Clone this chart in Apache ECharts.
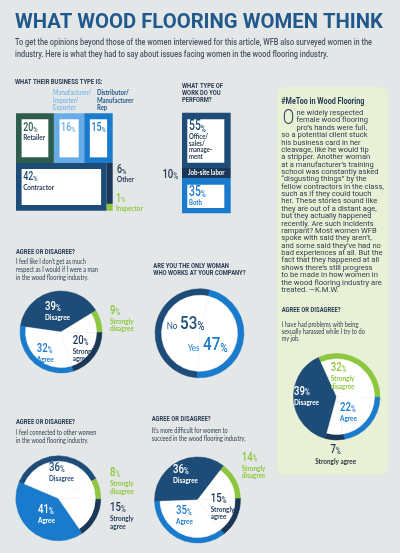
<!DOCTYPE html>
<html>
<head>
<meta charset="utf-8">
<script src="https://cdn.jsdelivr.net/npm/echarts@6.0.0/dist/echarts.min.js"></script>
<style>
html,body{margin:0;padding:0;background:#e4e7e7;}
#chart{width:400px;height:553px;}
</style>
</head>
<body>
<div id="chart"></div>
<script>
// ---------------- DATA ----------------
const businessTypes = ['Retailer', 'Manufacturer/\nImporter/\nExporter', 'Distributor/\nManufacturer\nRep', 'Contractor', 'Other', 'Inspector'];
const businessShares = [20, 16, 15, 42, 6, 1];

const workTypes = ['Office/\nsales/\nmanage-\nment', 'Job-site labor', 'Both'];
const workShares = [55, 10, 35];

const respectCats = ['Disagree', 'Strongly\ndisagree', 'Strongly\nagree', 'Agree'];
const respectShares = [39, 9, 20, 32];

const onlyWomanCats = ['No', 'Yes'];
const onlyWomanShares = [53, 47];

const harassCats = ['Disagree', 'Strongly\ndisagree', 'Agree', 'Strongly agree'];
const harassShares = [39, 32, 22, 7];

const connectedCats = ['Agree', 'Disagree', 'Strongly\ndisagree', 'Strongly\nagree'];
const connectedShares = [41, 36, 8, 15];

const difficultCats = ['Disagree', 'Strongly\ndisagree', 'Strongly\nagree', 'Agree'];
const difficultShares = [36, 14, 15, 35];

const titleText = 'WHAT WOOD FLOORING WOMEN THINK';
const subtitleLines = [
  'To get the opinions beyond those of the women interviewed for this article, WFB also surveyed women in the',
  'industry. Here is what they had to say about issues facing women in the wood flooring industry.'
];
const businessHeading = 'WHAT THEIR BUSINESS TYPE IS:';
const workHeading = ['WHAT TYPE OF', 'WORK DO YOU', 'PERFORM?'];
const agreeHeading = 'AGREE OR DISAGREE?';
const respectStatement = ["I feel like I don\u2019t get as much", 'respect as I would if I were a man', 'in the wood flooring industry.'];
const onlyWomanHeading = ['ARE YOU THE ONLY WOMAN', 'WHO WORKS AT YOUR COMPANY?'];
const harassStatement = ['I have had problems with being', 'sexually harassed while I try to do', 'my job.'];
const connectedStatement = ['I feel connected to other women', 'in the wood flooring industry.'];
const difficultStatement = ["It\u2019s more difficult for women to", 'succeed in the wood flooring industry.'];
const panelHeading = '#MeToo in Wood Flooring';
const panelDropCap = 'O';
const panelLines = [
  'ne widely respected',
  'female wood flooring',
  'pro\u2019s hands were full,',
  'so a potential client stuck',
  'his business card in her',
  'cleavage, like he would tip',
  'a stripper. Another woman',
  'at a manufacturer\u2019s training',
  'school was constantly asked',
  '\u201Cdisgusting things\u201D by the',
  'fellow contractors in the class,',
  'such as if they could touch',
  'her. These stories sound like',
  'they are out of a distant age,',
  'but they actually happened',
  'recently. Are such incidents',
  'rampant? Most women WFB',
  'spoke with said they aren\u2019t,',
  'and some said they\u2019ve had no',
  'bad experiences at all. But the',
  'fact that they happened at all',
  'shows there\u2019s still progress',
  'to be made in how women in',
  'the wood flooring industry are',
  'treated. \u2014K.M.W.'
];

// ---------------- STYLE ----------------
const C = {
  bg: '#e4e7e7', title: '#22598c', sub: '#475667', ink: '#283c55', text: '#2f4052',
  navy: '#1e4c78', blue: '#1a7bcd', green: '#8dc63f', dark: '#1b3656',
  light: '#67ace6', forest: '#2e5d4e', panel: '#e8f0d5', white: '#ffffff'
};
const mctx = document.createElement('canvas').getContext('2d');
function tw(s, font) { mctx.font = font; return mctx.measureText(s).width; }

function txt(s, x, y, font, fill, o) {
  o = o || {};
  const al = o.align || 'left';
  return { type: 'text', x: x, y: y, scaleX: o.sx || 1, z: o.z || 100, silent: true,
    style: { text: s, x: 0, y: 0, font: font, fill: fill, align: al, textAlign: al, verticalAlign: 'middle', textVerticalAlign: 'middle' } };
}
const SXN = 0.74;
function num(v, x, y, size, fill, o) {
  o = o || {};
  const al = o.align || 'left';
  return { type: 'text', x: x, y: y, scaleX: o.sx || SXN, z: o.z || 100, silent: true,
    style: { text: '{n|' + v + '}{p|%}', x: 0, y: 0, align: al, textAlign: al, verticalAlign: 'middle', textVerticalAlign: 'middle',
      rich: {
        n: { font: '500 ' + size + 'px Roboto', fill: fill, verticalAlign: 'bottom', lineHeight: size },
        p: { font: '500 ' + (size * 0.66).toFixed(1) + 'px Roboto', fill: fill, verticalAlign: 'bottom' }
      } } };
}

const HEAD = 'bold 8px Roboto';
const sxHead = 59 / tw(agreeHeading, HEAD);
const LBL = 'bold 7.5px Lato';
const sxL = 25 / tw('Disagree', LBL);
const STM = '7.2px Lato';
const sxS = 82 / tw(respectStatement[1], STM);
const BODY = '7px Roboto';
const sxB = 102.5 / tw(panelLines[10], BODY);

// ---------------- TREEMAP LAYOUT (computed from values) ----------------
const BIZ_GRID = { left: 16, top: 113.3, width: 96.7, height: 97.4 };
const NARROW_COL_PX = 6;
const bizRects = (function () {
  const total = businessShares.reduce((a, b) => a + b, 0);
  const topIdx = [0, 1, 2];
  const topSum = topIdx.reduce((a, i) => a + businessShares[i], 0);
  const hTop = topSum / total;
  const r = [];
  let x = 0;
  topIdx.forEach(i => { const w = businessShares[i] / topSum; r[i] = [x, 0, x + w, hTop]; x += w; });
  const col = NARROW_COL_PX / BIZ_GRID.width;
  r[3] = [0, hTop, 1 - col, 1];
  const colSum = businessShares[4] + businessShares[5];
  const ys = hTop + (1 - hTop) * businessShares[4] / colSum;
  r[4] = [1 - col, hTop, 1, ys];
  r[5] = [1 - col, ys, 1, 1];
  return r;
})();
const bizColors = [C.forest, C.light, C.blue, C.navy, C.dark, C.green];
const bizBoxed = [true, true, true, true, false, false];
const bizNameInside = [true, false, false, true];

function renderBiz(params, api) {
  const i = params.dataIndex, r = bizRects[i];
  const p0 = api.coord([r[0], r[1]]), p1 = api.coord([r[2], r[3]]);
  const x = p0[0], y = p0[1], w = p1[0] - p0[0], h = p1[1] - p0[1];
  const ch = [{ type: 'rect', shape: { x: x, y: y, width: w, height: h }, style: { fill: bizColors[i] } }];
  if (bizBoxed[i]) {
    const ix = x + 5.6, iy = y + 6, iw = w - 11.2, ih = h - 11.6;
    ch.push({ type: 'rect', shape: { x: ix, y: iy, width: iw, height: ih }, style: { fill: '#fff' } });
    ch.push(num(businessShares[i], ix + 1.6, iy + 8.3, 12, bizColors[i]));
    if (bizNameInside[i]) ch.push(txt(businessTypes[i], ix + 1.6, iy + 18.5, LBL, C.ink, { sx: sxL }));
  } else if (i === 4) {
    ch.push(num(businessShares[i], x + w + 4.3, y + 7.3, 12, C.ink));
    ch.push(txt(businessTypes[i], x + w + 4.3, y + 16.5, LBL, C.ink, { sx: sxL }));
  } else {
    ch.push(num(businessShares[i], x + w + 3.3, y + h - 12.2, 12, C.green));
    ch.push(txt(businessTypes[i], x + w + 3.3, y + h - 2.2, LBL, C.green, { sx: sxL }));
  }
  return { type: 'group', children: ch };
}

// ---------------- WORK BAR (stacked, computed from values) ----------------
const workColors = [C.navy, C.dark, C.blue];
const workStarts = workShares.map((v, i) => workShares.slice(0, i).reduce((a, b) => a + b, 0));
function renderWork(params, api) {
  const i = params.dataIndex;
  const p0 = api.coord([0, workStarts[i]]), p1 = api.coord([1, workStarts[i] + workShares[i]]);
  const x = p0[0], y = p0[1], w = p1[0] - p0[0], h = p1[1] - p0[1];
  const ch = [{ type: 'rect', shape: { x: x, y: y, width: w, height: h }, style: { fill: workColors[i] } }];
  if (i === 1) {
    ch.push(txt(workTypes[i], x + w / 2, y + h / 2, LBL, '#fff', { align: 'center', sx: 36.5 / tw(workTypes[i], LBL) }));
    ch.push(num(workShares[i], x - 4, y + h / 2 + 1.5, 13, C.ink, { align: 'right' }));
  } else {
    const ix = x + 5.3, iy = y + 6.6, iw = w - 11.7, ih = h - 11.8;
    ch.push({ type: 'rect', shape: { x: ix, y: iy, width: iw, height: ih }, style: { fill: '#fff' } });
    ch.push(num(workShares[i], ix + 1.7, iy + 7.6, 14, workColors[i]));
    workTypes[i].split('\n').forEach((ln, k) => {
      ch.push(txt(ln, ix + 1.7, iy + 17.8 + k * 6.4, 'bold 7px Lato', i === 0 ? C.ink : C.blue, { sx: sxL }));
    });
  }
  return { type: 'group', children: ch };
}

// ---------------- PIES ----------------
const pies = [
  { cats: respectCats, vals: respectShares, center: [61, 332], R: 41, ring: 5.5, start: 172,
    outer: [C.navy, C.green, C.dark, C.blue], fill: [true, false, false, false],
    labels: [{ dx: -16, dy: -25, c: '#fff' }, { dx: 49, dy: -21.5, c: C.green }, { dx: 11.7, dy: 8.5, c: C.dark }, { dx: -24.3, dy: 17, c: C.blue }] },
  { cats: harassCats, vals: harassShares, center: [336.7, 396.7], R: 43.3, ring: 5.5, start: -105.1,
    outer: [C.navy, C.green, C.blue, C.dark], fill: [true, false, false, false],
    labels: [{ dx: -42.7, dy: -5.4, c: '#fff' }, { dx: -6, dy: -29, c: C.green }, { dx: 3.3, dy: 11.3, c: C.blue }, { dx: -1, dy: 52.8, c: C.dark, align: 'center', lc: '#2d3338', gap: 12.5 }] },
  { cats: connectedCats, vals: connectedShares, center: [58.3, 498.3], R: 42.5, ring: 5.5, start: -55.4,
    outer: [C.blue, C.navy, C.green, C.dark], fill: [true, false, false, false],
    labels: [{ dx: -20.3, dy: 11.7, c: '#fff' }, { dx: -9.3, dy: -30.8, c: C.navy }, { dx: 51.7, dy: -25.3, c: C.green }, { dx: 51.7, dy: 9.7, c: C.dark }] },
  { cats: difficultCats, vals: difficultShares, center: [197.5, 500], R: 43, ring: 5.5, start: 182,
    outer: [C.navy, C.green, C.dark, C.blue], fill: [true, false, false, false],
    labels: [{ dx: -24.5, dy: -30.5, c: '#fff' }, { dx: 44.2, dy: -42.7, c: C.green }, { dx: 13.2, dy: -1.5, c: C.dark }, { dx: -21.5, dy: 11, c: C.blue }] }
];
const pieBase = { type: 'pie', clockwise: true, silent: true, animation: false, avoidLabelOverlap: false,
  label: { show: false }, labelLine: { show: false }, emphasis: { disabled: true } };
function pieSeries(p) {
  return [
    Object.assign({}, pieBase, { center: p.center, startAngle: p.start, radius: [0, p.R], z: 2,
      data: p.vals.map((v, i) => ({ name: p.cats[i], value: v, itemStyle: { color: p.outer[i], borderColor: p.outer[i], borderWidth: 0.5 } })) }),
    Object.assign({}, pieBase, { center: p.center, startAngle: p.start, radius: [0, p.R - p.ring], z: 3,
      data: p.vals.map((v, i) => { const col = p.fill[i] ? p.outer[i] : '#ffffff'; return { name: p.cats[i], value: v, itemStyle: { color: col, borderColor: col, borderWidth: 0.5 } }; }) })
  ];
}
function pieLabels(p) {
  const out = [];
  p.vals.forEach((v, i) => {
    const L = p.labels[i];
    const x = p.center[0] + L.dx, y = p.center[1] + L.dy, al = L.align || 'left';
    out.push(num(v, x, y, 13, L.c, { align: al }));
    p.cats[i].split('\n').forEach((ln, k) => out.push(txt(ln, x, y + (L.gap || 11) + k * 7.5, LBL, L.lc || L.c, { align: al, sx: sxL })));
  });
  return out;
}

// donut: only woman
const DONUT = { center: [199.5, 333.3], R: 44.5, ring: 6.5, start: -92.6, colors: [C.navy, C.blue] };

// ---------------- GRAPHIC ----------------
const G = [];
G.push({ type: 'rect', z: 0, silent: true, shape: { x: 277, y: 87, width: 111, height: 388, r: 8 }, style: { fill: C.panel } });
G.push(txt(titleText, 15, 22.5, 'bold 20px Roboto', C.title, { sx: 368 / tw(titleText, 'bold 20px Roboto') }));
const SUB = '500 9.5px Roboto';
const sxSub = 357 / tw(subtitleLines[0], SUB);
subtitleLines.forEach((ln, k) => G.push(txt(ln, 15, 43 + k * 12, SUB, C.sub, { sx: sxSub })));
G.push(txt(businessHeading, 15, 82, HEAD, C.ink, { sx: sxHead }));
businessTypes[1].split('\n').forEach((ln, k) => G.push(txt(ln, 53, 93.2 + k * 7.2, '7px Lato', C.light, { sx: sxL })));
businessTypes[2].split('\n').forEach((ln, k) => G.push(txt(ln, 97, 93.2 + k * 7.2, 'bold 7px Lato', C.title, { sx: sxL })));
workHeading.forEach((ln, k) => G.push(txt(ln, 182, 86.2 + k * 7, HEAD, C.ink, { sx: sxHead })));

// pie headings
G.push(txt(agreeHeading, 16, 252, HEAD, C.ink, { sx: sxHead }));
respectStatement.forEach((ln, k) => G.push(txt(ln, 16, 261.7 + k * 7.8, STM, C.text, { sx: sxS })));
onlyWomanHeading.forEach((ln, k) => G.push(txt(ln, 153.3, 265.5 + k * 7.2, HEAD, C.ink, { sx: sxHead })));
G.push(txt(agreeHeading, 281.7, 310, HEAD, C.ink, { sx: sxHead }));
harassStatement.forEach((ln, k) => G.push(txt(ln, 281.7, 324.5 + k * 7.2, STM, C.text, { sx: sxS })));
G.push(txt(agreeHeading, 16, 421.7, HEAD, C.ink, { sx: sxHead }));
connectedStatement.forEach((ln, k) => G.push(txt(ln, 16, 432.5 + k * 8.3, STM, C.text, { sx: sxS })));
G.push(txt(agreeHeading, 151.7, 419, HEAD, C.ink, { sx: sxHead }));
difficultStatement.forEach((ln, k) => G.push(txt(ln, 151.7, 430.5 + k * 7.8, STM, C.text, { sx: sxS })));

// panel text
G.push(txt(panelHeading, 281.3, 101.5, 'bold 9.5px Roboto', C.ink, { sx: 83 / tw(panelHeading, 'bold 9.5px Roboto') }));
G.push(txt(panelDropCap, 288.5, 118.5, '300 20px Roboto', C.ink, { align: 'center', sx: 0.85 }));
panelLines.forEach((ln, k) => G.push(txt(ln, k < 3 ? 296.5 : 281.3, 113.3 + k * 7.37, BODY, C.text, { sx: sxB })));

pies.forEach(p => pieLabels(p).forEach(e => G.push(e)));

// donut labels
G.push(txt(onlyWomanCats[0], DONUT.center[0] - 32.8, DONUT.center[1] - 7.3, '8.5px Lato', C.navy, { sx: 0.95 }));
G.push(num(onlyWomanShares[0], DONUT.center[0] - 19.5, DONUT.center[1] - 9.3, 19, C.navy, { sx: 0.8 }));
G.push(txt(onlyWomanCats[1], DONUT.center[0] - 11.8, DONUT.center[1] + 14.7, '8.5px Lato', C.blue, { sx: 0.95 }));
G.push(num(onlyWomanShares[1], DONUT.center[0] + 3.5, DONUT.center[1] + 12.2, 19, C.blue, { sx: 0.8 }));

// ---------------- SERIES ----------------
const series = [
  { type: 'custom', xAxisIndex: 0, yAxisIndex: 0, silent: true, animation: false, z: 2,
    data: businessShares.map((v, i) => ({ name: businessTypes[i], value: [i, v] })), renderItem: renderBiz },
  { type: 'custom', xAxisIndex: 1, yAxisIndex: 1, silent: true, animation: false, z: 2,
    data: workShares.map((v, i) => ({ name: workTypes[i], value: [i, v] })), renderItem: renderWork }
];
pies.forEach(p => pieSeries(p).forEach(s => series.push(s)));
series.push(Object.assign({}, pieBase, { center: DONUT.center, startAngle: DONUT.start, radius: [0, DONUT.R], z: 2,
  data: onlyWomanShares.map((v, i) => ({ name: onlyWomanCats[i], value: v, itemStyle: { color: DONUT.colors[i], borderColor: DONUT.colors[i], borderWidth: 0.5 } })) }));
series.push(Object.assign({}, pieBase, { center: DONUT.center, startAngle: DONUT.start, radius: [0, DONUT.R - DONUT.ring], z: 3,
  data: onlyWomanShares.map((v, i) => ({ name: onlyWomanCats[i], value: v, itemStyle: { color: '#fff', borderColor: '#fff', borderWidth: 0.5 } })) }));

const chart = echarts.init(document.getElementById('chart'), null, { renderer: 'canvas', width: 400, height: 553 });
chart.setOption({
  backgroundColor: C.bg,
  animation: false,
  grid: [
    { left: BIZ_GRID.left, top: BIZ_GRID.top, width: BIZ_GRID.width, height: BIZ_GRID.height },
    { left: 182, top: 112.7, width: 48.7, height: 100.6 }
  ],
  xAxis: [
    { gridIndex: 0, type: 'value', min: 0, max: 1, show: false },
    { gridIndex: 1, type: 'value', min: 0, max: 1, show: false }
  ],
  yAxis: [
    { gridIndex: 0, type: 'value', min: 0, max: 1, inverse: true, show: false },
    { gridIndex: 1, type: 'value', min: 0, max: 100, inverse: true, show: false }
  ],
  series: series,
  graphic: { elements: G }
});
</script>
</body>
</html>
